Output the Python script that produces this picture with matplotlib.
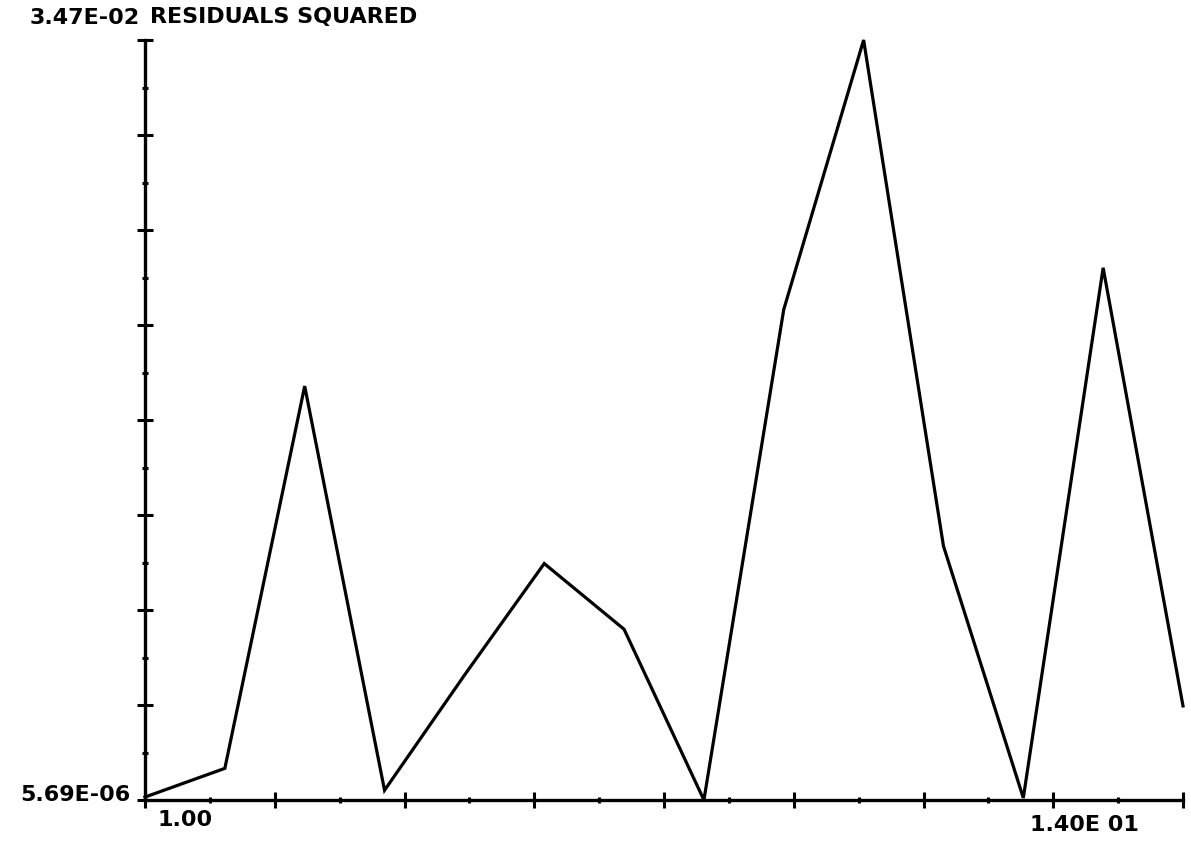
#!/usr/bin/env python3

import numpy as np
import matplotlib
matplotlib.use('Agg')
import matplotlib.pyplot as plt

# Sample number and squared residual.
samples = [1, 2, 3, 4, 5, 6, 7, 8, 9, 10, 11, 12, 13, 14]
residuals_sq = [1.4e-4, 1.45e-3, 1.89e-2, 4.5e-4, 5.7e-3, 1.08e-2, 7.8e-3,
                5.69e-6, 2.24e-2, 3.47e-2, 1.16e-2, 1.0e-4, 2.43e-2, 4.3e-3]

x_min, x_max = 1.0, 14.0
y_min, y_max = 5.69e-6, 3.47e-2
y_labels = ['5.69E-06', '3.47E-02']
x_labels = ['1.00', '1.40E 01']
title = 'RESIDUALS SQUARED'

W, H = 1191, 844
fig = plt.figure(figsize=(W / 100, H / 100), dpi=100)
ax = fig.add_axes([145 / W, 1 - 800 / H, (1183 - 145) / W, (800 - 40) / H])

ax.plot(samples, residuals_sq, color='black', linewidth=2.3, clip_on=False,
        solid_joinstyle='miter')

ax.set_xlim(x_min, x_max)
ax.set_ylim(y_min, y_max)

for side in ['top', 'right']:
    ax.spines[side].set_visible(False)
for side in ['left', 'bottom']:
    ax.spines[side].set_linewidth(2.4)

# Major ticks every other mark, minor in between, crossing the axis.
ax.set_xticks(np.linspace(x_min, x_max, 9))
ax.set_xticks(np.linspace(x_min, x_max, 17), minor=True)
ax.set_yticks(np.linspace(y_min, y_max, 9))
ax.set_yticks(np.linspace(y_min, y_max, 17), minor=True)
ax.tick_params(which='major', direction='inout', length=12, width=2.2,
               labelbottom=False, labelleft=False)
ax.tick_params(which='minor', direction='inout', length=5, width=2.2)

font = dict(family='DejaVu Sans', fontweight='bold', fontsize=16, color='black')

# End labels only, as the plotter drew them.
fig.text(140 / W, 1 - 18 / H, y_labels[1], ha='right', va='center', **font)
fig.text(130 / W, 1 - 795 / H, y_labels[0], ha='right', va='center', **font)
fig.text(157 / W, 1 - 820 / H, x_labels[0], ha='left', va='center', **font)
fig.text(1030 / W, 1 - 825 / H, x_labels[1], ha='left', va='center', **font)
fig.text(150 / W, 1 - 17 / H, title, ha='left', va='center', **font)

fig.savefig('out.png', dpi=100)
